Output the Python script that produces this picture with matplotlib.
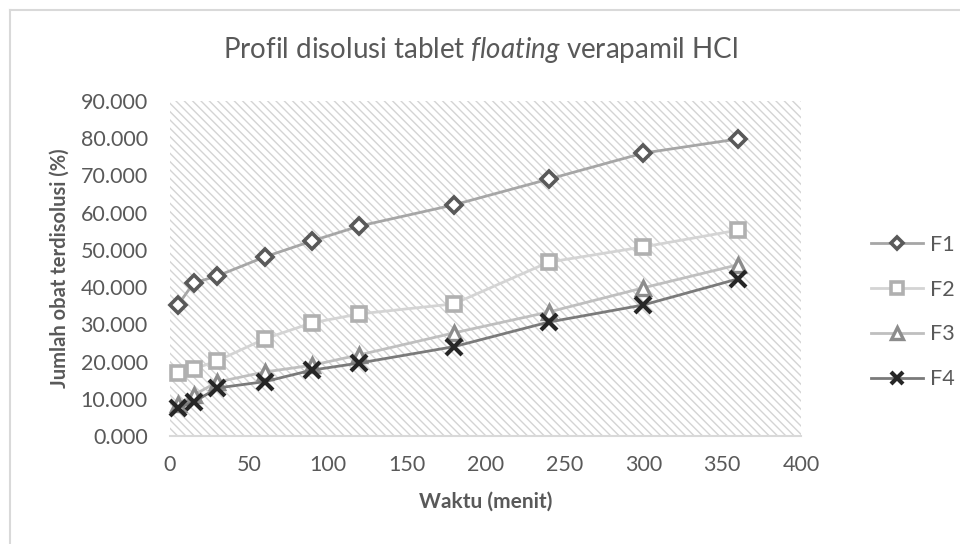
import matplotlib
matplotlib.use("Agg")
import matplotlib.pyplot as plt
from matplotlib.patches import Rectangle
from matplotlib.lines import Line2D


# Data
waktu = [5, 15, 30, 60, 90, 120, 180, 240, 300, 360]

f1 = [35.2, 41.1, 43.0, 48.1, 52.4, 56.4, 62.1, 69.0, 76.0, 79.8]
f2 = [16.9, 18.0, 20.2, 26.1, 30.4, 32.8, 35.5, 46.7, 50.8, 55.3]
f3 = [8.5, 11.0, 14.5, 17.2, 19.0, 21.8, 27.7, 33.3, 39.8, 46.0]
f4 = [7.5, 9.1, 12.9, 14.6, 17.7, 19.6, 24.0, 30.6, 35.2, 42.2]

series_names = ["F1", "F2", "F3", "F4"]
x_ticks = [0, 50, 100, 150, 200, 250, 300, 350, 400]
y_ticks = [0, 10, 20, 30, 40, 50, 60, 70, 80, 90]


# Styling
text_col = "#595959"
plt.rcParams["font.family"] = ["Lato", "DejaVu Sans"]
plt.rcParams["mathtext.fontset"] = "custom"
plt.rcParams["mathtext.it"] = "Lato:italic"
plt.rcParams["mathtext.rm"] = "Lato"
plt.rcParams["hatch.linewidth"] = 1.0

styles = {
    "F1": dict(line="#a6a6a6", marker="D", mcol="#595959", ms=8, mew=2.6),
    "F2": dict(line="#d4d4d4", marker="s", mcol="#b0b0b0", ms=10, mew=2.6),
    "F3": dict(line="#bfbfbf", marker="^", mcol="#8c8c8c", ms=10, mew=2.4),
    "F4": dict(line="#7a7a7a", marker="x", mcol="#262626", ms=11, mew=3.0),
}

fig = plt.figure(figsize=(9.6, 5.44), dpi=100)
fig.patch.set_facecolor("white")

# Chart frame (left and top edges visible)
fig.add_artist(Line2D([9.5 / 960, 9.5 / 960], [0, 1 - 9.5 / 544],
                      color="#d9d9d9", lw=1.5, transform=fig.transFigure))
fig.add_artist(Line2D([9.5 / 960, 1], [1 - 9.5 / 544, 1 - 9.5 / 544],
                      color="#d9d9d9", lw=1.5, transform=fig.transFigure))

ax = fig.add_axes([170 / 960, 1 - 436 / 544, 631 / 960, 335 / 544])
ax.set_facecolor("white")

# Hatched plot area
ax.add_patch(Rectangle((0, 0), 1, 1, transform=ax.transAxes,
                       facecolor="white", edgecolor="#d4d4d4", lw=0,
                       hatch="\\\\\\\\", zorder=0))

data = [f1, f2, f3, f4]
for name, vals in zip(series_names, data):
    s = styles[name]
    ax.plot(waktu, vals, color=s["line"], lw=2.0, zorder=2,
            marker=s["marker"], markersize=s["ms"],
            markerfacecolor="white" if s["marker"] != "x" else s["mcol"],
            markeredgecolor=s["mcol"], markeredgewidth=s["mew"],
            label=name, clip_on=False)

ax.set_xlim(0, 400)
ax.set_ylim(0, 90)
ax.set_xticks(x_ticks)
ax.set_yticks(y_ticks)
ax.set_yticklabels([f"{v:.3f}" for v in y_ticks])

for sp in ["top", "right", "left"]:
    ax.spines[sp].set_visible(False)
ax.spines["bottom"].set_color("#d9d9d9")
ax.spines["bottom"].set_linewidth(1.5)

ax.tick_params(axis="both", length=0, labelsize=15.5, colors=text_col)
ax.tick_params(axis="x", pad=14)
ax.tick_params(axis="y", pad=16)

ax.set_xlabel("Waktu (menit)", fontsize=15, fontweight="bold",
              color=text_col, labelpad=12)
ax.set_ylabel("Jumlah obat terdisolusi (%)", fontsize=14.5,
              fontweight="bold", color=text_col, labelpad=8)

fig.text(0.5, 1 - 50 / 544,
         r"Profil disolusi tablet $\it{floating}$ verapamil HCl",
         ha="center", va="center", fontsize=20, color=text_col)

leg = ax.legend(loc="center left", bbox_to_anchor=(1.081, 0.37),
                frameon=False, fontsize=15.5, labelcolor=text_col,
                handlelength=2.4, handletextpad=0.3, labelspacing=1.15,
                markerscale=0.8)

fig.savefig("out.png", dpi=100, facecolor="white")
